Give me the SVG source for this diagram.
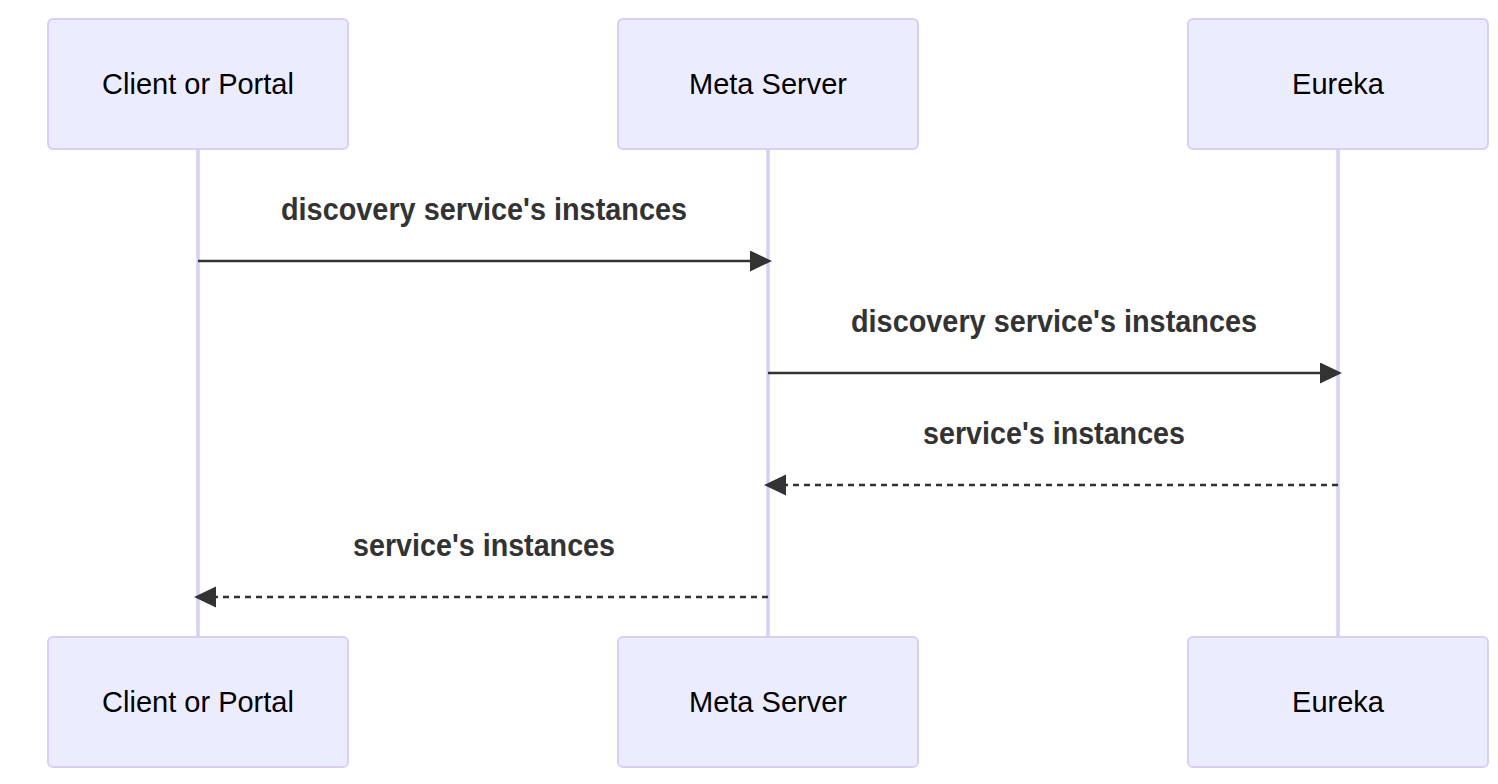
<svg xmlns="http://www.w3.org/2000/svg" width="1498" height="784" viewBox="0 0 1498 784">
<style>
.actor{fill:#ECECFF;stroke:#DACEF3;stroke-width:2}
.atext{font-family:"Liberation Sans",Arial,sans-serif;font-size:29px;fill:#000;text-anchor:middle}
.life{stroke:#DACEF3;stroke-width:3.5}
.msg{stroke:#333;stroke-width:2.5;fill:none}
.dash{stroke-dasharray:6 5}
.mtext{font-family:"Liberation Sans",Arial,sans-serif;font-size:32px;font-weight:bold;fill:#333;text-anchor:middle}
</style>
<defs>
<marker id="arrow" markerUnits="userSpaceOnUse" markerWidth="24" markerHeight="22" refX="18" refY="10.5" orient="auto">
<path d="M0,0 L22,10.5 L0,21 z" fill="#333"/>
</marker>
</defs>
<rect width="1498" height="784" fill="#fff"/>
<g id="lifelines">
<line class="life" x1="198" y1="149" x2="198" y2="637"/>
<line class="life" x1="768" y1="149" x2="768" y2="637"/>
<line class="life" x1="1338" y1="149" x2="1338" y2="637"/>
</g>
<g id="client-top"><rect class="actor" x="48" y="19" width="300" height="130" rx="5"/><text class="atext" x="198" y="94">Client or Portal</text></g>
<g id="meta-top"><rect class="actor" x="618" y="19" width="300" height="130" rx="5"/><text class="atext" x="768" y="94">Meta Server</text></g>
<g id="eureka-top"><rect class="actor" x="1188" y="19" width="300" height="130" rx="5"/><text class="atext" x="1338" y="94">Eureka</text></g>
<g id="client-bottom"><rect class="actor" x="48" y="637" width="300" height="130" rx="5"/><text class="atext" x="198" y="712">Client or Portal</text></g>
<g id="meta-bottom"><rect class="actor" x="618" y="637" width="300" height="130" rx="5"/><text class="atext" x="768" y="712">Meta Server</text></g>
<g id="eureka-bottom"><rect class="actor" x="1188" y="637" width="300" height="130" rx="5"/><text class="atext" x="1338" y="712">Eureka</text></g>
<g id="connectors">
<line class="msg" x1="198" y1="261" x2="768" y2="261" marker-end="url(#arrow)"/>
<line class="msg" x1="768" y1="373" x2="1338" y2="373" marker-end="url(#arrow)"/>
<line class="msg dash" x1="1338" y1="485" x2="768" y2="485" marker-end="url(#arrow)"/>
<line class="msg dash" x1="768" y1="597" x2="198" y2="597" marker-end="url(#arrow)"/>
<text class="mtext" x="484" y="220" textLength="406" lengthAdjust="spacingAndGlyphs">discovery service's instances</text>
<text class="mtext" x="1054" y="332" textLength="406" lengthAdjust="spacingAndGlyphs">discovery service's instances</text>
<text class="mtext" x="1054" y="444" textLength="262" lengthAdjust="spacingAndGlyphs">service's instances</text>
<text class="mtext" x="484" y="556" textLength="262" lengthAdjust="spacingAndGlyphs">service's instances</text>
</g>
</svg>
